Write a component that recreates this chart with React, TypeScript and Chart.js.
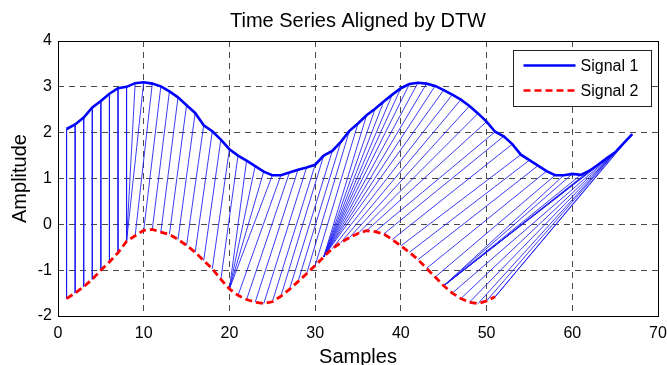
import React, { useEffect, useRef } from 'react';
import { Chart, registerables } from 'chart.js';

Chart.register(...registerables);

// ---- data ----
const chartTitle = 'Time Series Aligned by DTW';
const xAxisTitle = 'Samples';
const yAxisTitle = 'Amplitude';
const seriesLabels = ['Signal 1', 'Signal 2'];

const xTicks = { min: 0, max: 70, step: 10 };
const yTicks = { min: -2, max: 4, step: 1 };

// Signal 1, samples 1..67
const signal1 = [
  2.08, 2.18, 2.33, 2.55, 2.69, 2.85, 2.97, 3.0, 3.08, 3.1,
  3.07, 3.01, 2.9, 2.77, 2.6, 2.43, 2.16, 2.03, 1.85, 1.64,
  1.5, 1.39, 1.27, 1.15, 1.07, 1.07, 1.13, 1.19, 1.24, 1.3,
  1.5, 1.6, 1.8, 2.04, 2.2, 2.38, 2.52, 2.68, 2.83, 2.97,
  3.06, 3.09, 3.07, 3.02, 2.93, 2.83, 2.72, 2.58, 2.42, 2.24,
  2.02, 1.92, 1.75, 1.52, 1.4, 1.28, 1.16, 1.07, 1.07, 1.1,
  1.08, 1.17, 1.3, 1.44, 1.57, 1.77, 1.97,
];

// Signal 2, samples 1..51
const signal2 = [
  -1.62, -1.5, -1.36, -1.2, -1.0, -0.82, -0.62, -0.37, -0.25, -0.13,
  -0.11, -0.17, -0.22, -0.33, -0.46, -0.61, -0.79, -0.97, -1.2, -1.41,
  -1.55, -1.64, -1.7, -1.73, -1.69, -1.57, -1.42, -1.25, -1.08, -0.9,
  -0.71, -0.53, -0.4, -0.29, -0.2, -0.14, -0.16, -0.21, -0.33, -0.47,
  -0.61, -0.77, -0.96, -1.15, -1.34, -1.5, -1.62, -1.7, -1.73, -1.67,
  -1.58,
];

// DTW warping path: matched sample numbers (Signal 1 index, Signal 2 index)
const pathSignal1 = [
  1, 2, 3, 4, 5, 6, 7, 8, 9, 10,
  11, 12, 13, 14, 15, 16, 17, 18, 19, 20, 21,
  22, 23, 24, 25,
  26, 27, 28, 29, 30, 31, 32, 33, 34, 35,
  36, 37, 38, 39, 40, 41, 42, 43, 44, 45,
  46, 47, 48, 49, 50, 51, 52, 53, 54, 55, 56, 57,
  58, 59, 60, 61, 62, 63, 64, 65,
  65, 65, 65, 65, 65,
  66, 67,
];
const pathSignal2 = [
  1, 2, 3, 4, 5, 6, 7, 8, 8, 8,
  9, 10, 11, 12, 13, 14, 15, 16, 17, 18, 19,
  20, 20, 20, 20,
  21, 22, 23, 24, 25, 26, 27, 28, 29, 30,
  31, 31, 31, 31, 31, 31, 31, 31, 31, 31,
  32, 33, 34, 35, 36, 37, 38, 39, 40, 41, 42, 43,
  44, 45, 45, 45, 45, 45, 45, 45,
  46, 47, 48, 49, 50,
  51, 51,
];

// ---- styles ----
const FONT = '"Liberation Sans", Arial, Helvetica, sans-serif';
const BLUE = '#0000ff';
const RED = '#ff0000';
const RED_DASH = [7, 4];
const GRID_DASH = [6, 5];

const decorPlugin = {
  id: 'decor',
  afterDatasetsDraw(chart: any) {
    const { ctx, chartArea } = chart;
    const { left, right, top, bottom } = chartArea;
    ctx.save();
    // frame
    ctx.strokeStyle = '#000';
    ctx.lineWidth = 1;
    ctx.setLineDash([]);
    ctx.strokeRect(Math.round(left) + 0.5, Math.round(top) + 0.5, Math.round(right - left), Math.round(bottom - top));

    // title
    ctx.fillStyle = '#000';
    ctx.font = `20px ${FONT}`;
    ctx.textAlign = 'center';
    ctx.textBaseline = 'alphabetic';
    const cx = (left + right) / 2;
    ctx.fillText(chartTitle, cx, top - 14);

    // x axis title
    ctx.font = `20px ${FONT}`;
    ctx.fillText(xAxisTitle, cx, bottom + 47);

    // y axis title
    ctx.save();
    ctx.translate(26, (top + bottom) / 2);
    ctx.rotate(-Math.PI / 2);
    ctx.fillText(yAxisTitle, 0, 0);
    ctx.restore();

    // legend
    const bw = 138;
    const bh = 56;
    const bx = Math.round(right - 7 - bw) + 0.5;
    const by = Math.round(top + 9) + 0.5;
    ctx.fillStyle = '#fff';
    ctx.fillRect(bx, by, bw, bh);
    ctx.strokeStyle = '#222';
    ctx.lineWidth = 1;
    ctx.strokeRect(bx, by, bw, bh);

    const rows = [
      { label: seriesLabels[0], color: BLUE, dash: [] as number[], y: by + 15 },
      { label: seriesLabels[1], color: RED, dash: RED_DASH, y: by + 40 },
    ];
    rows.forEach((r) => {
      ctx.beginPath();
      ctx.strokeStyle = r.color;
      ctx.lineWidth = 2.6;
      ctx.setLineDash(r.dash);
      ctx.moveTo(bx + 10, r.y);
      ctx.lineTo(bx + 62, r.y);
      ctx.stroke();
      ctx.setLineDash([]);
      ctx.fillStyle = '#000';
      ctx.font = `16px ${FONT}`;
      ctx.textAlign = 'left';
      ctx.textBaseline = 'middle';
      ctx.fillText(r.label, bx + 67, r.y + 1);
    });
    ctx.restore();
  },
};

export default function App() {
  const canvasRef = useRef<HTMLCanvasElement | null>(null);

  useEffect(() => {
    if (!canvasRef.current) return;

    const s1Points = signal1.map((v, i) => ({ x: i + 1, y: v }));
    const s2Points = signal2.map((v, i) => ({ x: i + 1, y: v }));

    const alignSets = pathSignal1.map((i1, k) => {
      const i2 = pathSignal2[k];
      return {
        label: 'align',
        data: [
          { x: i1, y: signal1[i1 - 1] },
          { x: i2, y: signal2[i2 - 1] },
        ],
        showLine: true,
        borderColor: 'rgba(25,25,245,0.85)',
        borderWidth: 1,
        pointRadius: 0,
        pointHoverRadius: 0,
        tension: 0,
        order: 5,
      };
    });

    const chart = new Chart(canvasRef.current, {
      type: 'scatter',
      data: {
        datasets: [
          {
            label: seriesLabels[0],
            data: s1Points,
            showLine: true,
            borderColor: BLUE,
            borderWidth: 2.6,
            pointRadius: 0,
            tension: 0,
            order: 1,
          },
          {
            label: seriesLabels[1],
            data: s2Points,
            showLine: true,
            borderColor: RED,
            borderWidth: 2.8,
            borderDash: RED_DASH,
            pointRadius: 0,
            tension: 0,
            order: 0,
          },
          ...alignSets,
        ] as any,
      },
      options: {
        animation: false,
        responsive: false,
        devicePixelRatio: 1,
        events: [],
        layout: { padding: { top: 41, right: 9, left: 0, bottom: 0 } },
        plugins: {
          legend: { display: false },
          title: { display: false },
          tooltip: { enabled: false },
        },
        scales: {
          x: {
            type: 'linear',
            min: xTicks.min,
            max: xTicks.max,
            afterFit: (scale: any) => {
              scale.height = 49;
              scale.paddingLeft = 0;
              scale.paddingRight = 0;
            },
            ticks: {
              stepSize: xTicks.step,
              color: '#000',
              padding: 8,
              maxRotation: 0,
              font: { family: FONT, size: 16 },
            },
            grid: { color: '#4a4a4a', lineWidth: 1, drawTicks: false },
            border: { display: false, dash: GRID_DASH },
          },
          y: {
            type: 'linear',
            min: yTicks.min,
            max: yTicks.max,
            afterFit: (scale: any) => {
              scale.width = 58;
              scale.paddingTop = 0;
              scale.paddingBottom = 0;
            },
            ticks: {
              stepSize: yTicks.step,
              color: '#000',
              padding: 6,
              font: { family: FONT, size: 16 },
            },
            grid: { color: '#4a4a4a', lineWidth: 1, drawTicks: false },
            border: { display: false, dash: GRID_DASH },
          },
        },
      } as any,
      plugins: [decorPlugin],
    });

    return () => chart.destroy();
  }, []);

  return (
    <div style={{ position: 'fixed', left: 0, top: 0, width: 667, height: 365, background: '#fff' }}>
      <canvas ref={canvasRef} width={667} height={365} style={{ display: 'block' }} />
    </div>
  );
}
